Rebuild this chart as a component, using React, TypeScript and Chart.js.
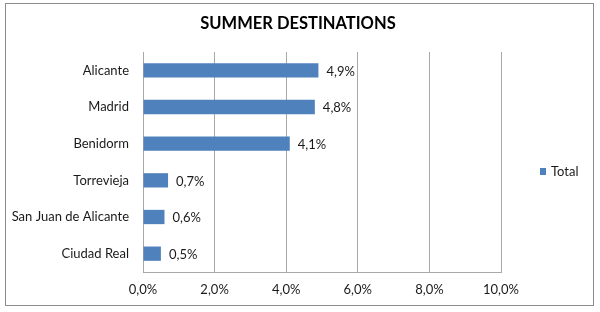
import React, { useEffect, useRef } from "react";
import { Chart, registerables } from "chart.js";

Chart.register(...registerables);

const categories = ["Alicante", "Madrid", "Benidorm", "Torrevieja", "San Juan de Alicante", "Ciudad Real"];
const totals = [4.9, 4.8, 4.1, 0.7, 0.6, 0.5];
const xTicks = [0, 2, 4, 6, 8, 10];
const chartTitle = "SUMMER DESTINATIONS";
const seriesName = "Total";

const FONT = "Lato, 'Open Sans', sans-serif";
const BAR = "#4F81BD";

const fmt = (v: number) => v.toFixed(1).replace(".", ",") + "%";

export default function App() {
  const ref = useRef<HTMLCanvasElement | null>(null);

  useEffect(() => {
    document.body.style.margin = "0";
    const extras = {
      id: "extras",
      afterDatasetsDraw(chart: any) {
        const ctx = chart.ctx;
        const meta = chart.getDatasetMeta(0);
        ctx.save();
        ctx.font = `13px ${FONT}`;
        ctx.fillStyle = "#1a1a1a";
        ctx.textBaseline = "middle";
        ctx.textAlign = "left";
        meta.data.forEach((bar: any, i: number) => {
          ctx.fillText(fmt(totals[i]), bar.x + 8, bar.y + 1);
        });
        ctx.restore();
      },
      afterDraw(chart: any) {
        const ctx = chart.ctx;
        ctx.save();
        // outer border
        ctx.strokeStyle = "#8c8c8c";
        ctx.lineWidth = 1;
        ctx.strokeRect(5.5, 3.5, 588, 302);
        // title
        ctx.font = `bold 16.5px ${FONT}`;
        ctx.fillStyle = "#000";
        ctx.textAlign = "center";
        ctx.textBaseline = "middle";
        ctx.fillText(chartTitle, 298, 24);
        // legend
        ctx.fillStyle = BAR;
        ctx.fillRect(540, 168, 6, 7);
        ctx.font = `13px ${FONT}`;
        ctx.fillStyle = "#1a1a1a";
        ctx.textAlign = "left";
        ctx.fillText(seriesName, 551, 172);
        ctx.restore();
      },
    };

    const chart = new Chart(ref.current as HTMLCanvasElement, {
      type: "bar",
      data: {
        labels: categories,
        datasets: [
          {
            label: seriesName,
            data: totals,
            backgroundColor: BAR,
            borderWidth: 0,
            barPercentage: 0.78,
            categoryPercentage: 0.5,
          },
        ],
      },
      options: {
        indexAxis: "y",
        animation: false,
        responsive: false,
        devicePixelRatio: 1,
        layout: { padding: { left: 0, right: 99, top: 52, bottom: 0 } },
        plugins: {
          legend: { display: false },
          title: { display: false },
          tooltip: { enabled: false },
        },
        scales: {
          x: {
            min: 0,
            max: 10,
            afterBuildTicks: (scale: any) => {
              scale.ticks = xTicks.map((v) => ({ value: v }));
            },
            afterFit: (scale: any) => {
              scale.height = 40;
            },
            grid: { color: "#a8a8a8", drawTicks: false, lineWidth: 1 },
            border: { display: true, color: "#a8a8a8" },
            ticks: {
              padding: 10,
              color: "#1a1a1a",
              font: { family: FONT, size: 13 },
              callback: (v: any) => fmt(Number(v)),
            },
          },
          y: {
            afterFit: (scale: any) => {
              scale.width = 143;
            },
            grid: { display: false, drawTicks: false },
            border: { display: true, color: "#a8a8a8" },
            ticks: {
              padding: 14,
              color: "#1a1a1a",
              font: { family: FONT, size: 13 },
            },
          },
        },
      },
      plugins: [extras],
    } as any);
    return () => chart.destroy();
  }, []);

  return (
    <div style={{ position: "fixed", left: 0, top: 0, width: 600, height: 312, background: "#fff" }}>
      <canvas ref={ref} width={600} height={312} style={{ width: 600, height: 312, display: "block" }} />
    </div>
  );
}
